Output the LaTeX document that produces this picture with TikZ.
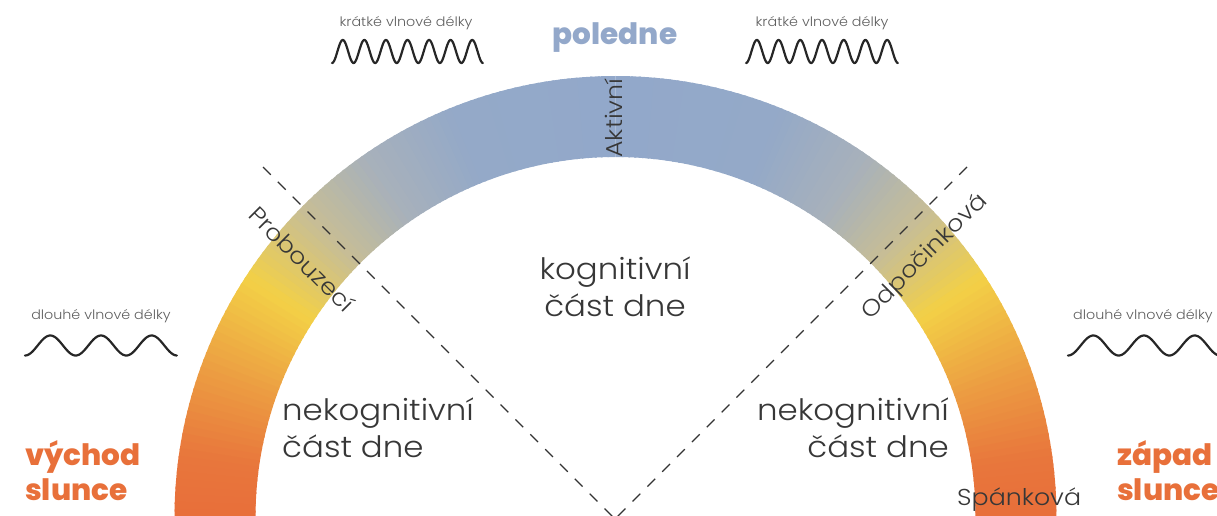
\documentclass[tikz,border=0pt]{standalone}
\usepackage{fontspec}
\IfFontExistsTF{Poppins Light}{\setmainfont{Poppins Light}[FakeStretch=1.1]}{\setmainfont{Poppins}[FakeStretch=1.1]}
\IfFontExistsTF{Poppins ExtraBold}{\newfontfamily\heavyf{Poppins ExtraBold}}{%
  \IfFontExistsTF{Poppins Bold}{\newfontfamily\heavyf{Poppins Bold}}{\newfontfamily\heavyf{Poppins}[FakeBold=2]}}
\definecolor{g0}{RGB}{146,168,202}
\definecolor{g1}{RGB}{148,169,200}
\definecolor{g2}{RGB}{168,177,186}
\definecolor{g3}{RGB}{200,190,148}
\definecolor{g4}{RGB}{243,208,70}
\definecolor{g5}{RGB}{236,158,66}
\definecolor{g6}{RGB}{232,118,60}
\definecolor{g7}{RGB}{232,111,58}
\definecolor{sunorange}{RGB}{232,112,58}
\definecolor{noonblue}{RGB}{147,168,202}
\definecolor{txtdark}{RGB}{55,55,55}
\definecolor{txtgray}{RGB}{95,95,95}
\tikzset{
  biglabel/.style={font=\fontsize{29.5}{36}\selectfont, text=txtdark, inner sep=0pt},
  phaselabel/.style={font=\fontsize{23}{27}\selectfont, text=txtdark, inner sep=0pt},
  smalllabel/.style={font=\fontsize{13}{16}\selectfont, text=txtgray, inner sep=0pt},
  sunlabel/.style={font=\heavyf\fontsize{29.5}{36}\selectfont, text=sunorange, inner sep=0pt},
  noonlabel/.style={font=\heavyf\fontsize{29.5}{36}\selectfont, text=noonblue, inner sep=0pt},
  wave/.style={line width=2.2pt, color=black!85, line cap=round},
  divider/.style={dashed, dash pattern=on 11pt off 10pt, line width=1.1pt, color=black!80}
}
\begin{document}
\begin{tikzpicture}[x=1pt,y=1pt]
\useasboundingbox (0,0) rectangle (1217,515);
\coordinate (O) at (615.5,-2);
% gradient band
\foreach \ta/\tb/\ca/\cb in {0/22/g0/g1, 22/35/g1/g2, 35/46/g2/g3, 46/57/g3/g4, 57/70/g4/g5, 70/82/g5/g6, 82/90/g6/g7}{
  \pgfmathtruncatemacro{\tend}{\tb-1}
  \foreach \t in {\ta,...,\tend}{
    \pgfmathsetmacro{\p}{100*(\t+0.5-\ta)/(\tb-\ta)}
    \colorlet{segc}{\cb!\p!\ca}
    \pgfmathsetmacro{\aL}{90+\t}
    \pgfmathsetmacro{\aLe}{90+\t+1.3}
    \pgfmathsetmacro{\aR}{90-\t}
    \pgfmathsetmacro{\aRe}{90-\t-1.3}
    \fill[segc] ([shift={(\aL:441pt)}]O) arc[start angle=\aL,end angle=\aLe,radius=441pt]
      -- ([shift={(\aLe:360pt)}]O) arc[start angle=\aLe,end angle=\aL,radius=360pt] -- cycle;
    \fill[segc] ([shift={(\aR:441pt)}]O) arc[start angle=\aR,end angle=\aRe,radius=441pt]
      -- ([shift={(\aRe:360pt)}]O) arc[start angle=\aRe,end angle=\aR,radius=360pt] -- cycle;
  }
}
% dashed dividers
\coordinate (dl1) at (263,348);
\coordinate (dl2) at (622,-11);
\coordinate (dr1) at (967,348);
\coordinate (dr2) at (608,-11);
\draw[divider] (dl1) -- (dl2);
\draw[divider] (dr1) -- (dr2);
% waves
\draw[wave] plot[domain=0:1, samples=300] ({332+151*\x},{463.5-11.5*cos(360*7*\x)});
\draw[wave] plot[domain=0:1, samples=300] ({746+152*\x},{463.5-11.5*cos(360*7*\x)});
\draw[wave] plot[domain=0:1, samples=200] ({25+152*\x},{169.5-10*cos(360*3*\x)});
\draw[wave] plot[domain=0:1, samples=200] ({1068+152*\x},{169.5-10*cos(360*3*\x)});
% labels
\node[smalllabel, anchor=base] (ksL) at (406,488) {krátké vlnové délky};
\node[smalllabel, anchor=base] (ksR) at (822,488) {krátké vlnové délky};
\node[smalllabel, anchor=base] (dlL) at (101,196) {dlouhé vlnové délky};
\node[smalllabel, anchor=base west] (dlR) at (1073,196) {dlouhé vlnové délky};
\node[noonlabel, anchor=base] (noon) at (615,470) {poledne};
\node[phaselabel, rotate=90] (akt) at (614,397) {Aktivní};
\node[phaselabel, rotate=-45] (prob) at (302,256) {Probouzecí};
\node[phaselabel, rotate=45] (odp) at (925,258) {Odpočinková};
\node[phaselabel, anchor=base west] (span) at (957,10) {Spánková};
\node[biglabel, anchor=base] (kog1) at (615,236) {kognitivní};
\node[biglabel, anchor=base] (kog2) at (615,199) {část dne};
\node[biglabel, anchor=base west] (nkL1) at (282,95) {nekognitivní};
\node[biglabel, anchor=base west] (nkL2) at (282,58) {část dne};
\node[biglabel, anchor=base east] (nkR1) at (949,95) {nekognitivní};
\node[biglabel, anchor=base east] (nkR2) at (949,58) {část dne};
\node[sunlabel, anchor=base west] (vych1) at (25,50) {východ};
\node[sunlabel, anchor=base west] (vych2) at (25,15) {slunce};
\node[sunlabel, anchor=base west] (zap1) at (1117,50) {západ};
\node[sunlabel, anchor=base west] (zap2) at (1117,15) {slunce};
\end{tikzpicture}
\end{document}
